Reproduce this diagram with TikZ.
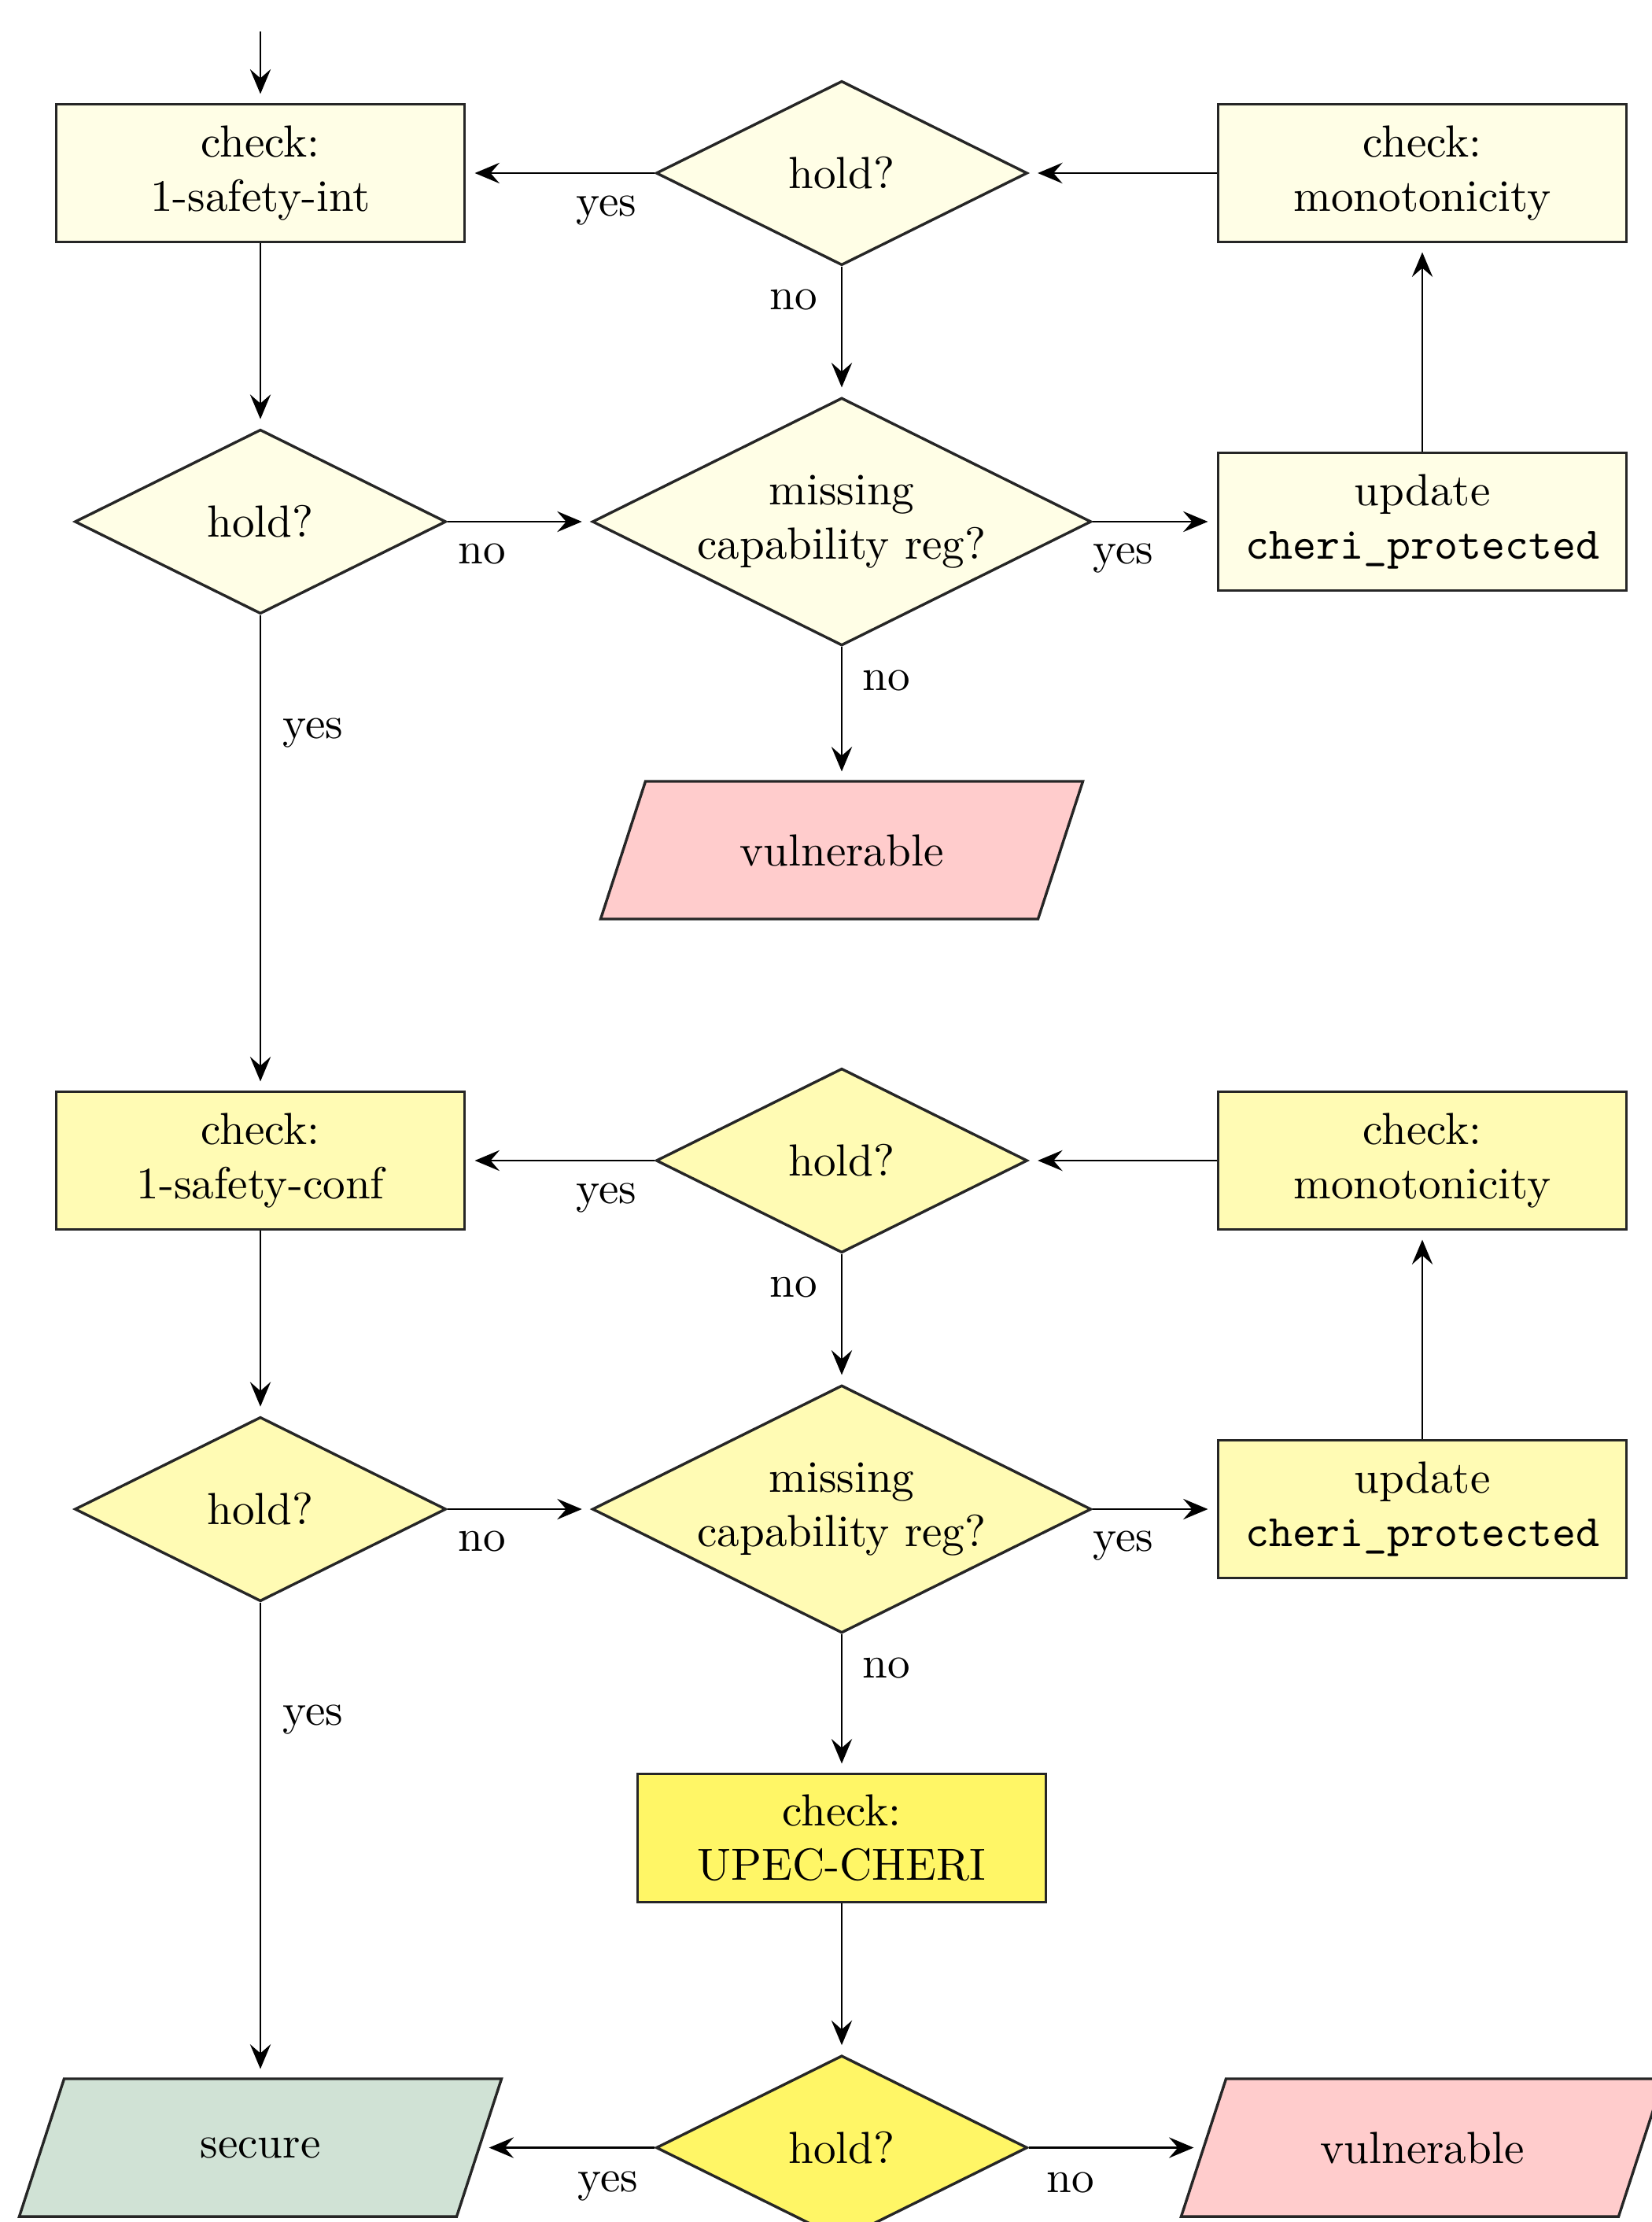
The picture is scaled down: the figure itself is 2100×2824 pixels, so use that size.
\documentclass[tikz,border=0pt]{standalone}
\usetikzlibrary{shapes.geometric,arrows.meta}
\definecolor{cream}{RGB}{255,254,230}
\definecolor{paleyel}{RGB}{255,251,180}
\definecolor{brightyel}{RGB}{255,246,102}
\definecolor{vulnred}{RGB}{255,204,204}
\definecolor{securegreen}{RGB}{208,226,213}
\tikzset{
  txt/.style={font=\fontsize{10}{12}\selectfont, align=center},
  base/.style={txt, draw=black!85, line width=0.6pt, inner sep=0pt},
  procbox/.style={base, rectangle, minimum width=90.8pt, minimum height=30.6pt},
  decision/.style={base, diamond, aspect=2, minimum width=82.6pt, minimum height=41pt},
  bigdecision/.style={base, diamond, aspect=2, minimum width=111pt, minimum height=55.1pt},
  ioanchor/.style={txt, rectangle, draw=none, minimum width=97.3pt, minimum height=30.6pt, inner sep=0pt},
  ioshape/.style={draw=black!85, line width=0.6pt},
  arr/.style={-{Stealth[length=5.5pt,width=4.6pt,inset=2pt]}, line width=0.45pt, shorten >=2pt},
  lbl/.style={txt, inner sep=0pt},
}
\newcommand\iobox[5]{%
  \filldraw[ioshape, fill=#4] (#2,#3) ++(-249.5,-87.5) -- ++(556,0) -- ++(-57,175) -- ++(-556,0) -- cycle;
  \node[ioanchor] (#1) at (#2,#3) {#5};
}
\begin{document}
\begin{tikzpicture}[x=0.175pt, y=-0.175pt]
\useasboundingbox (0,0) rectangle (2100,2824);
\clip (0,0) rectangle (2100,2824);

% ---------- upper part ----------
\node[procbox, fill=cream] (int) at (331,220) {check:\\1-safety-int};
\node[decision, fill=cream] (holdA) at (1070,220) {hold?};
\node[procbox, fill=cream] (monoA) at (1808,220) {check:\\monotonicity};
\node[decision, fill=cream] (holdB) at (331,663) {hold?};
\node[bigdecision, fill=cream] (missA) at (1070,663) {missing\\capability reg?};
\node[procbox, fill=cream] (updA) at (1808,663) {update\\\texttt{cheri\_protected}};
\iobox{vulnA}{1070}{1080.5}{vulnred}{vulnerable}

% ---------- lower part ----------
\node[procbox, fill=paleyel] (conf) at (331,1475) {check:\\1-safety-conf};
\node[decision, fill=paleyel] (holdC) at (1070,1475) {hold?};
\node[procbox, fill=paleyel] (monoB) at (1808,1475) {check:\\monotonicity};
\node[decision, fill=paleyel] (holdD) at (331,1918) {hold?};
\node[bigdecision, fill=paleyel] (missB) at (1070,1918) {missing\\capability reg?};
\node[procbox, fill=paleyel] (updB) at (1808,1918) {update\\\texttt{cheri\_protected}};
\node[procbox, fill=brightyel, minimum height=28.5pt] (upec) at (1070,2336) {check:\\UPEC-CHERI};
\node[decision, fill=brightyel] (holdE) at (1070,2729.5) {hold?};
\iobox{secure}{331}{2729.5}{securegreen}{secure}
\iobox{vulnB}{1808}{2729.5}{vulnred}{vulnerable}

% ---------- connectors ----------
\coordinate (start) at (331,40);
\draw[arr] (start) -- (int);
\draw[arr] (holdA) -- (int);
\draw[arr] (monoA) -- (holdA);
\draw[arr] (holdA) -- (missA);
\draw[arr] (int) -- (holdB);
\draw[arr] (holdB) -- (missA);
\draw[arr] (missA) -- (updA);
\draw[arr] (updA) -- (monoA);
\draw[arr] (missA) -- (vulnA);
\draw[arr] (holdB) -- (conf);

\draw[arr] (holdC) -- (conf);
\draw[arr] (monoB) -- (holdC);
\draw[arr] (holdC) -- (missB);
\draw[arr] (conf) -- (holdD);
\draw[arr] (holdD) -- (missB);
\draw[arr] (missB) -- (updB);
\draw[arr] (updB) -- (monoB);
\draw[arr] (missB) -- (upec);
\draw[arr] (upec) -- (holdE);
\draw[arr] (holdD) -- (secure);
\draw[arr] (holdE) -- (secure);
\draw[arr] (holdE) -- (vulnB);

% ---------- labels ----------
\node[lbl] (l1) at (771,268) {yes};
\node[lbl] (l2) at (1009,381) {no};
\node[lbl] (l3) at (613,704) {no};
\node[lbl] (l4) at (1428,710) {yes};
\node[lbl] (l5) at (1127,865) {no};
\node[lbl] (l6) at (398,932) {yes};
\node[lbl] (l7) at (771,1523) {yes};
\node[lbl] (l8) at (1009,1636) {no};
\node[lbl] (l9) at (613,1959) {no};
\node[lbl] (l10) at (1428,1965) {yes};
\node[lbl] (l11) at (1127,2120) {no};
\node[lbl] (l12) at (398,2186) {yes};
\node[lbl] (l13) at (773,2779) {yes};
\node[lbl] (l14) at (1361,2774) {no};
\end{tikzpicture}
\end{document}
